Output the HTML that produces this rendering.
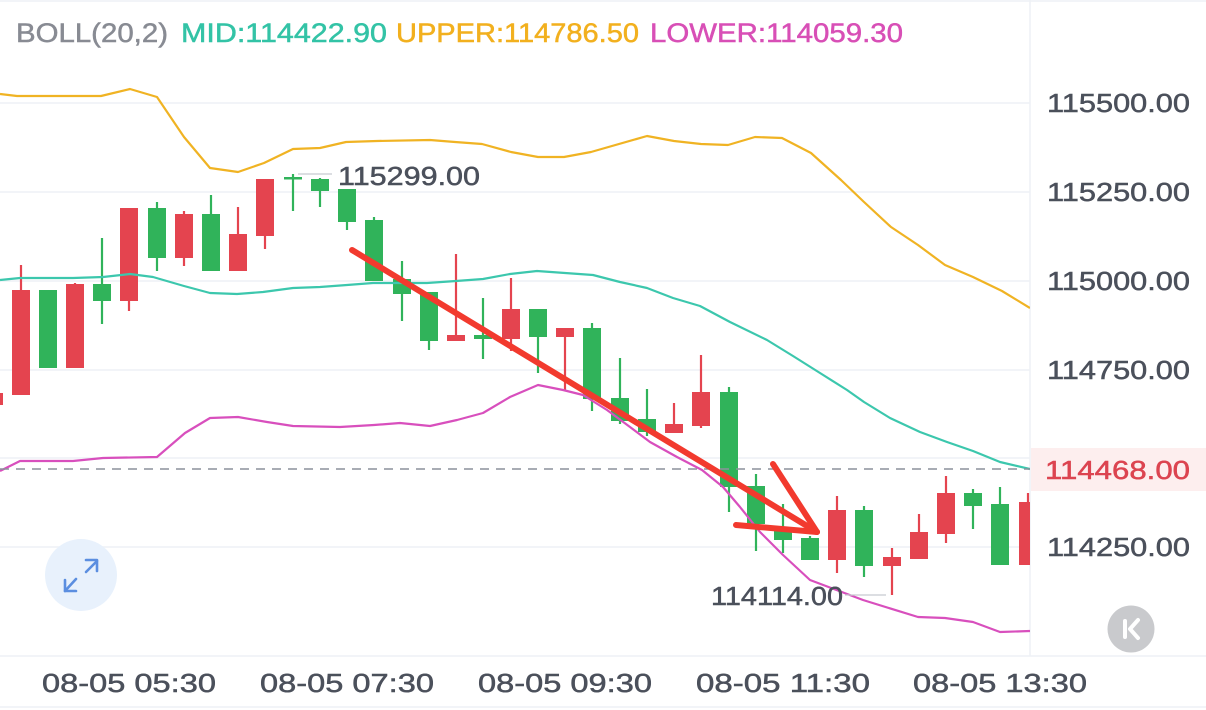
<!DOCTYPE html>
<html><head><meta charset="utf-8"><style>
html,body{margin:0;padding:0;background:#fff;}
svg{display:block;}
text{font-family:"Liberation Sans",sans-serif;}
</style></head><body>
<svg width="1206" height="710" viewBox="0 0 1206 710" xmlns="http://www.w3.org/2000/svg">
<defs><clipPath id="plot"><rect x="0" y="0" width="1030" height="655"/></clipPath></defs>
<rect width="1206" height="710" fill="#fff"/>
<g stroke="#eef1f6" stroke-width="1.5">
<line x1="0" y1="1" x2="1206" y2="1"/>
<line x1="0" y1="103" x2="1030" y2="103"/>
<line x1="0" y1="192" x2="1030" y2="192"/>
<line x1="0" y1="281" x2="1030" y2="281"/>
<line x1="0" y1="370" x2="1030" y2="370"/>
<line x1="0" y1="458" x2="1030" y2="458"/>
<line x1="0" y1="547" x2="1030" y2="547"/>
<line x1="1030" y1="0" x2="1030" y2="656"/>
<line x1="0" y1="656" x2="1206" y2="656"/>
<line x1="0" y1="707" x2="1206" y2="707"/>
</g>
<g clip-path="url(#plot)">
<g fill="#e4444f">
<rect x="-15" y="393" width="18" height="12"/>
<rect x="19.9" y="265" width="2.2" height="130"/><rect x="12" y="290" width="18" height="105"/>
<rect x="73.9" y="283" width="2.2" height="85"/><rect x="66" y="284" width="18" height="84"/>
<rect x="127.9" y="208" width="2.2" height="103"/><rect x="120" y="208" width="18" height="93"/>
<rect x="182.9" y="211" width="2.2" height="55"/><rect x="175" y="214" width="18" height="44"/>
<rect x="236.9" y="207" width="2.2" height="64"/><rect x="229" y="234" width="18" height="37"/>
<rect x="263.9" y="179" width="2.2" height="70"/><rect x="256" y="179" width="18" height="57"/>
<rect x="454.9" y="254" width="2.2" height="87"/><rect x="447" y="335" width="18" height="6"/>
<rect x="509.9" y="278" width="2.2" height="73"/><rect x="502" y="309" width="18" height="30"/>
<rect x="563.9" y="328" width="2.2" height="62"/><rect x="556" y="328" width="18" height="9"/>
<rect x="672.9" y="403" width="2.2" height="30"/><rect x="665" y="424" width="18" height="9"/>
<rect x="699.9" y="355" width="2.2" height="73"/><rect x="692" y="392" width="18" height="34"/>
<rect x="835.9" y="496" width="2.2" height="77"/><rect x="828" y="510" width="18" height="50"/>
<rect x="890.9" y="548" width="2.2" height="47"/><rect x="883" y="557" width="18" height="9"/>
<rect x="917.9" y="514" width="2.2" height="45"/><rect x="910" y="532" width="18" height="27"/>
<rect x="944.9" y="476" width="2.2" height="67"/><rect x="937" y="493" width="18" height="41"/>
<rect x="1026.9" y="493" width="2.2" height="72"/><rect x="1019" y="502" width="18" height="63"/>
</g>
<g fill="#30b35a">
<rect x="46.9" y="290" width="2.2" height="78"/><rect x="39" y="290" width="18" height="78"/>
<rect x="100.9" y="238" width="2.2" height="86"/><rect x="93" y="284" width="18" height="17"/>
<rect x="155.9" y="202" width="2.2" height="69"/><rect x="148" y="208" width="18" height="50"/>
<rect x="209.9" y="195" width="2.2" height="76"/><rect x="202" y="214" width="18" height="57"/>
<rect x="291.9" y="174" width="2.2" height="37"/><rect x="284" y="177" width="18" height="2.5"/>
<rect x="318.9" y="178" width="2.2" height="29"/><rect x="311" y="179" width="18" height="12"/>
<rect x="345.9" y="189" width="2.2" height="41"/><rect x="338" y="189" width="18" height="33"/>
<rect x="372.9" y="217" width="2.2" height="64"/><rect x="365" y="220" width="18" height="61"/>
<rect x="400.9" y="261" width="2.2" height="60"/><rect x="393" y="279" width="18" height="15"/>
<rect x="427.9" y="292" width="2.2" height="58"/><rect x="420" y="292" width="18" height="49"/>
<rect x="481.9" y="298" width="2.2" height="61"/><rect x="474" y="335" width="18" height="4"/>
<rect x="536.9" y="309" width="2.2" height="64"/><rect x="529" y="309" width="18" height="28"/>
<rect x="590.9" y="323" width="2.2" height="88"/><rect x="583" y="328" width="18" height="71"/>
<rect x="618.9" y="358" width="2.2" height="66"/><rect x="611" y="398" width="18" height="23"/>
<rect x="645.9" y="389" width="2.2" height="47"/><rect x="638" y="419" width="18" height="13"/>
<rect x="727.9" y="387" width="2.2" height="125"/><rect x="720" y="392" width="18" height="95"/>
<rect x="754.9" y="474" width="2.2" height="77"/><rect x="747" y="486" width="18" height="38"/>
<rect x="781.9" y="504" width="2.2" height="49"/><rect x="774" y="528" width="18" height="12"/>
<rect x="808.9" y="536" width="2.2" height="24"/><rect x="801" y="538" width="18" height="22"/>
<rect x="862.9" y="506" width="2.2" height="71"/><rect x="855" y="510" width="18" height="56"/>
<rect x="971.9" y="489" width="2.2" height="40"/><rect x="964" y="493" width="18" height="13"/>
<rect x="998.9" y="487" width="2.2" height="78"/><rect x="991" y="504" width="18" height="61"/>
</g>
<g stroke-width="2.2" fill="none" stroke-linejoin="round">
<polyline stroke="#f0b323" points="0,94 17,96 101,96 130,89 157,97 184,137 210,168 238,172 264,163 293,149 320,148 346,142 377,141 430,140 455,142 482,144 511,152 538,157 564,157 591,152 647,136 674,141 701,144 728,145 755,137 782,138 811,153 841,180 864,202 891,227 918,245 945,265 973,277 1002,291 1030,308"/>
<polyline stroke="#3cc7ad" points="0,280 20,278 73,278 103,277 130,274 153,277 184,286 210,293 237,294 263,292 293,288 320,287 347,285 373,283 427,283 456,281 483,279 510,274 537,271 565,273 593,275 620,282 647,288 673,298 700,306 730,322 767,340 793,356 820,373 847,390 864,402 890,418 920,432 947,442 973,451 1000,462 1030,469"/>
<polyline stroke="#d84fbd" points="0,471 20,461 73,461 103,458 157,457 185,433 210,418 238,417 267,422 293,426 340,427 374,425 400,423 430,426 457,420 483,413 510,397 538,385 563,390 583,395 607,410 630,427 650,442 677,457 702,470 723,487 740,507 760,532 783,555 810,580 863,600 918,617 945,618 973,622 1000,632 1030,631"/>
</g>
</g>
<line x1="0" y1="469" x2="1030" y2="469" stroke="#8c919b" stroke-width="1.5" stroke-dasharray="9,7"/>
<rect x="1031" y="448" width="175" height="43" fill="#fdeeee"/>
<g fill="#4b505b" stroke="#4b505b" stroke-width="0.5" font-size="26">
<text x="1047" y="112" textLength="143" lengthAdjust="spacingAndGlyphs">115500.00</text>
<text x="1047" y="201" textLength="143" lengthAdjust="spacingAndGlyphs">115250.00</text>
<text x="1047" y="290" textLength="143" lengthAdjust="spacingAndGlyphs">115000.00</text>
<text x="1047" y="379" textLength="143" lengthAdjust="spacingAndGlyphs">114750.00</text>
<text x="1047" y="556" textLength="143" lengthAdjust="spacingAndGlyphs">114250.00</text>
</g>
<text x="1045" y="479" font-size="26" fill="#dc4450" stroke="#dc4450" stroke-width="0.5" textLength="145" lengthAdjust="spacingAndGlyphs">114468.00</text>
<g fill="#4b505b" stroke="#4b505b" stroke-width="0.5" font-size="26">
<text x="42" y="692" textLength="174" lengthAdjust="spacingAndGlyphs">08-05 05:30</text>
<text x="260" y="692" textLength="174" lengthAdjust="spacingAndGlyphs">08-05 07:30</text>
<text x="478" y="692" textLength="174" lengthAdjust="spacingAndGlyphs">08-05 09:30</text>
<text x="696" y="692" textLength="174" lengthAdjust="spacingAndGlyphs">08-05 11:30</text>
<text x="913" y="692" textLength="174" lengthAdjust="spacingAndGlyphs">08-05 13:30</text>
</g>
<g font-size="27" stroke-width="0.5">
<text x="16" y="42" fill="#888b93" stroke="#888b93" textLength="152" lengthAdjust="spacingAndGlyphs">BOLL(20,2)</text>
<text x="181" y="42" fill="#33c3a6" stroke="#33c3a6" textLength="206" lengthAdjust="spacingAndGlyphs">MID:114422.90</text>
<text x="396" y="42" fill="#f2b01e" stroke="#f2b01e" textLength="243" lengthAdjust="spacingAndGlyphs">UPPER:114786.50</text>
<text x="650" y="42" fill="#d84fb6" stroke="#d84fb6" textLength="253" lengthAdjust="spacingAndGlyphs">LOWER:114059.30</text>
</g>
<line x1="298" y1="174" x2="332" y2="174" stroke="#c8cbd0" stroke-width="1.2"/>
<text x="338" y="185" font-size="26" fill="#4b505b" stroke="#4b505b" stroke-width="0.5" textLength="142" lengthAdjust="spacingAndGlyphs">115299.00</text>
<line x1="845" y1="595" x2="886" y2="595" stroke="#c8cbd0" stroke-width="1.2"/>
<text x="711" y="605" font-size="26" fill="#4b505b" stroke="#4b505b" stroke-width="0.5" textLength="132" lengthAdjust="spacingAndGlyphs">114114.00</text>
<g stroke="#f23a2e" stroke-width="6" stroke-linecap="round" fill="none">
<line x1="352" y1="250" x2="817" y2="532"/>
<line x1="773" y1="464" x2="817" y2="532"/>
<line x1="736" y1="525" x2="817" y2="532"/>
</g>
<circle cx="81" cy="575" r="36" fill="#e8f1fc"/>
<g stroke="#5b8ee0" stroke-width="2.6" fill="none" stroke-linecap="round" stroke-linejoin="round">
<line x1="86" y1="572" x2="97" y2="561"/>
<polyline points="86,560 97,560 97,571"/>
<line x1="76" y1="579" x2="65" y2="591"/>
<polyline points="65,580 65,591 76,591"/>
</g>
<circle cx="1131" cy="629" r="23.5" fill="#c9cacd"/>
<g stroke="#fff" stroke-width="4" fill="none" stroke-linecap="round" stroke-linejoin="round">
<line x1="1125" y1="621" x2="1125" y2="637"/>
<polyline points="1138,620 1130,629 1138,638"/>
</g>
</svg>
</body></html>
